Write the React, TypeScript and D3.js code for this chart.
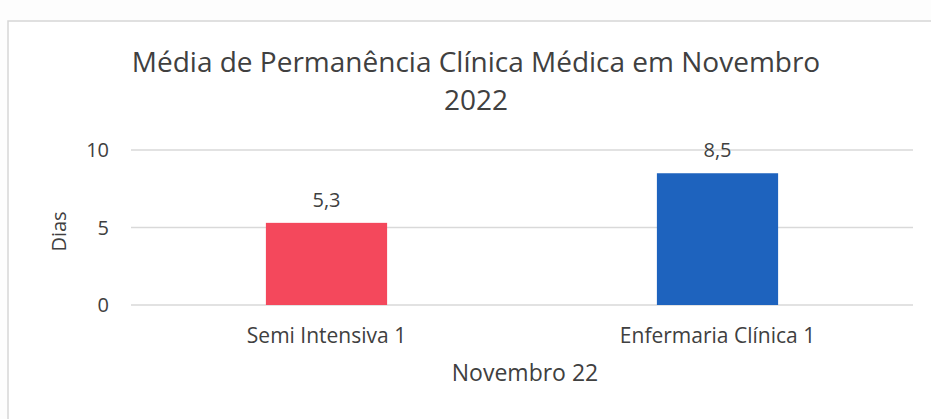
import React from "react";
import * as d3 from "d3";

const categories = ["Semi Intensiva 1", "Enfermaria Clínica 1"];
const values = [5.3, 8.5];
const valueLabels = ["5,3", "8,5"];
const barColors = ["#F4485C", "#1E63BE"];
const yTicks = [0, 5, 10];
const titleLines = ["Média de Permanência Clínica Médica em Novembro", "2022"];
const yAxisTitle = "Dias";
const xAxisTitle = "Novembro 22";

const W = 931;
const H = 419;
const FONT = "'Open Sans', 'Noto Sans', sans-serif";
const TEXT = "#404040";

export default function App() {
  const x = d3.scaleBand<string>().domain(categories).range([131, 913]).padding(0);
  const y = d3.scaleLinear().domain([0, 10]).range([305, 150]);
  const barW = x.bandwidth() * 0.31;

  return (
    <svg
      width={W}
      height={H}
      viewBox={`0 0 ${W} ${H}`}
      style={{ position: "absolute", left: 0, top: 0, display: "block", background: "#fdfdfd" }}
    >
      <rect x={8} y={21} width={W} height={H} fill="#ffffff" stroke="#d6d6d6" strokeWidth={1.5} />
      {titleLines.map((t, i) => (
        <text
          key={i}
          x={476}
          y={72 + i * 38}
          textAnchor="middle"
          fontFamily={FONT}
          fontSize={28}
          fill={TEXT}
        >
          {t}
        </text>
      ))}
      {yTicks.map((t) => (
        <g key={t}>
          <line x1={131} x2={913} y1={y(t)} y2={y(t)} stroke="#d9d9d9" strokeWidth={1.3} />
          <text
            x={109}
            y={y(t)}
            dy="0.35em"
            textAnchor="end"
            fontFamily={FONT}
            fontSize={20}
            fill={TEXT}
          >
            {t}
          </text>
        </g>
      ))}
      {categories.map((c, i) => {
        const cx = (x(c) ?? 0) + x.bandwidth() / 2;
        return (
          <g key={c}>
            <rect
              x={cx - barW / 2}
              y={y(values[i])}
              width={barW}
              height={y(0) - y(values[i])}
              fill={barColors[i]}
            />
            <text
              x={cx}
              y={y(values[i]) - 16}
              textAnchor="middle"
              fontFamily={FONT}
              fontSize={20}
              fill={TEXT}
            >
              {valueLabels[i]}
            </text>
            <text
              x={cx}
              y={y(0) + 38}
              textAnchor="middle"
              fontFamily={FONT}
              fontSize={21}
              fill={TEXT}
            >
              {c}
            </text>
          </g>
        );
      })}
      <text
        transform={`translate(66, ${y(5) + 4}) rotate(-90)`}
        textAnchor="middle"
        fontFamily={FONT}
        fontSize={20}
        fill={TEXT}
      >
        {yAxisTitle}
      </text>
      <text x={525} y={381} textAnchor="middle" fontFamily={FONT} fontSize={23} fill={TEXT}>
        {xAxisTitle}
      </text>
    </svg>
  );
}
